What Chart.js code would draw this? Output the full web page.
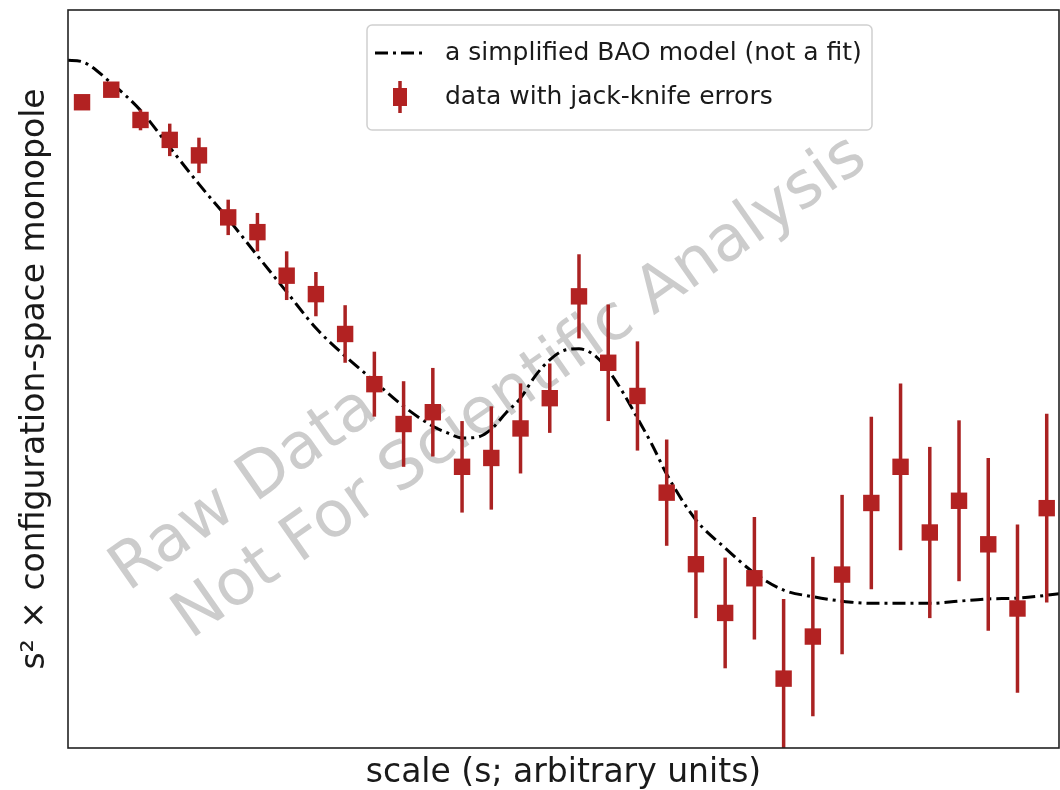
<!DOCTYPE html>
<html>
<head>
<meta charset="utf-8">
<script src="https://cdn.jsdelivr.net/npm/chart.js@4/dist/chart.umd.min.js"></script>
<style>
  html, body { margin: 0; padding: 0; background: #ffffff; }
  #wrap { width: 1060px; height: 790px; }
</style>
</head>
<body>
<div id="wrap"><canvas id="c" width="1060" height="790"></canvas></div>
<script>
// Separation bins (arbitrary units)
const sValues = [30, 35, 40, 45, 50, 55, 60, 65, 70, 75, 80, 85, 90, 95, 100, 105, 110,
                 115, 120, 125, 130, 135, 140, 145, 150, 155, 160, 165, 170, 175, 180, 185, 190, 195];
// Measured s^2 * monopole
const monopole = [87.5, 89.2, 85.1, 82.4, 80.3, 71.9, 69.9, 64.0, 61.5, 56.1, 49.3, 43.9, 45.5, 38.1, 39.3, 43.3, 47.4,
                  61.2, 52.2, 47.7, 34.6, 24.9, 18.3, 23.0, 9.4, 15.1, 23.5, 33.2, 38.1, 29.2, 33.5, 27.6, 18.9, 32.5];
// Jack-knife errors (half-widths)
const jackknifeErr = [0.6, 0.7, 1.4, 2.2, 2.4, 2.4, 2.6, 3.3, 3.0, 3.9, 4.4, 5.8, 6.0, 6.2, 7.0, 6.1, 4.7,
                      5.7, 7.9, 7.4, 7.2, 7.3, 7.5, 8.3, 10.8, 10.8, 10.8, 11.7, 11.3, 11.6, 10.9, 11.7, 11.4, 12.8];
// Simplified BAO model curve
const modelS = [27.6, 30, 35, 40, 45, 50, 55, 60, 65, 70, 75, 80, 85, 90, 92.5, 95, 97.5, 100, 102.5, 105,
                107.5, 110, 112.5, 115, 117.5, 120, 122.5, 125, 127.5, 130, 135, 140, 145, 150, 155, 160,
                165, 170, 175, 180, 185, 190, 195, 197.1];
const modelCurve = [93.2, 93.0, 90.1, 86.4, 81.4, 76.4, 71.7, 66.7, 61.8, 56.9, 53.1, 49.7, 46.3, 43.6, 42.7, 42.0, 42.1, 43.2, 45.4, 47.4,
                    50.4, 52.6, 53.9, 54.1, 53.3, 51.2, 48.2, 44.7, 41.1, 37.1, 30.9, 27.1, 23.7, 21.4, 20.5, 19.9,
                    19.6, 19.6, 19.6, 19.9, 20.2, 20.3, 20.7, 20.9];

const xRange = [27.6, 197.1];
const yRange = [0, 100];

const FONT = "'DejaVu Sans', 'Liberation Sans', sans-serif";
const RED = '#b22222';
const BAR_RED = '#aa2222';

// Error bars drawn just before the data markers
const errorBars = {
  id: 'errorBars',
  beforeDatasetDraw(chart, args) {
    if (args.index !== 0) return;
    const { ctx, chartArea, scales: { x, y } } = chart;
    ctx.save();
    ctx.beginPath();
    ctx.rect(chartArea.left, chartArea.top, chartArea.right - chartArea.left, chartArea.bottom - chartArea.top);
    ctx.clip();
    ctx.strokeStyle = BAR_RED;
    ctx.lineWidth = 3.5;
    sValues.forEach((s, i) => {
      const px = x.getPixelForValue(s);
      ctx.beginPath();
      ctx.moveTo(px, y.getPixelForValue(monopole[i] - jackknifeErr[i]));
      ctx.lineTo(px, y.getPixelForValue(monopole[i] + jackknifeErr[i]));
      ctx.stroke();
    });
    ctx.restore();
  }
};

// Faint diagonal caption behind the data
const watermark = {
  id: 'watermark',
  beforeDatasetsDraw(chart) {
    const { ctx } = chart;
    ctx.save();
    ctx.translate(128, 592);
    ctx.rotate(-35 * Math.PI / 180);
    ctx.fillStyle = 'rgba(128,128,128,0.4)';
    ctx.font = '64px ' + FONT;
    ctx.textBaseline = 'alphabetic';
    ctx.textAlign = 'left';
    ctx.fillText('Raw Data', 0, 0);
    ctx.fillText('Not For Scientific Analysis', 24, 75);
    ctx.restore();
  }
};

// Axes frame (all four spines)
const frame = {
  id: 'frame',
  afterDatasetsDraw(chart) {
    const { ctx, chartArea: a } = chart;
    ctx.save();
    ctx.strokeStyle = '#222222';
    ctx.lineWidth = 1.6;
    ctx.strokeRect(a.left, a.top, a.right - a.left, a.bottom - a.top);
    ctx.restore();
  }
};

// Legend box in the upper right of the axes
const boxLegend = {
  id: 'boxLegend',
  afterDraw(chart) {
    const { ctx } = chart;
    const ds = chart.data.datasets;
    const bx = 367, by = 25, bw = 505, bh = 105, r = 5;
    ctx.save();
    ctx.beginPath();
    ctx.moveTo(bx + r, by);
    ctx.arcTo(bx + bw, by, bx + bw, by + bh, r);
    ctx.arcTo(bx + bw, by + bh, bx, by + bh, r);
    ctx.arcTo(bx, by + bh, bx, by, r);
    ctx.arcTo(bx, by, bx + bw, by, r);
    ctx.closePath();
    ctx.fillStyle = 'rgba(255,255,255,0.8)';
    ctx.fill();
    ctx.strokeStyle = '#d0d0d0';
    ctx.lineWidth = 1.5;
    ctx.stroke();

    // model handle
    const y1 = 53, y2 = 97;
    ctx.strokeStyle = '#000000';
    ctx.lineWidth = 3;
    ctx.setLineDash([13, 5, 3, 5]);
    ctx.beginPath();
    ctx.moveTo(375, y1);
    ctx.lineTo(424, y1);
    ctx.stroke();
    ctx.setLineDash([]);

    // data handle
    ctx.strokeStyle = BAR_RED;
    ctx.lineWidth = 3.5;
    ctx.beginPath();
    ctx.moveTo(400, y2 - 16);
    ctx.lineTo(400, y2 + 16);
    ctx.stroke();
    ctx.fillStyle = RED;
    ctx.fillRect(400 - 7, y2 - 9, 14, 18);

    ctx.fillStyle = '#1a1a1a';
    ctx.font = '25px ' + FONT;
    ctx.textBaseline = 'middle';
    ctx.textAlign = 'left';
    ctx.fillText(ds[1].label, 445, y1);
    ctx.fillText(ds[0].label, 445, y2);
    ctx.restore();
  }
};

new Chart(document.getElementById('c'), {
  type: 'scatter',
  data: {
    datasets: [
      {
        label: 'data with jack-knife errors',
        data: sValues.map((s, i) => ({ x: s, y: monopole[i] })),
        pointStyle: 'rect',
        pointRadius: 11.6,
        pointHoverRadius: 11.6,
        backgroundColor: RED,
        borderColor: RED,
        borderWidth: 0,
        showLine: false
      },
      {
        label: 'a simplified BAO model (not a fit)',
        type: 'line',
        data: modelS.map((s, i) => ({ x: s, y: modelCurve[i] })),
        borderColor: '#000000',
        borderWidth: 3,
        borderDash: [13, 5, 3, 5],
        pointRadius: 0,
        fill: false,
        cubicInterpolationMode: 'monotone'
      }
    ]
  },
  options: {
    responsive: false,
    animation: false,
    devicePixelRatio: 1,
    layout: { autoPadding: false, padding: { top: 10, right: 1, left: 0, bottom: 0 } },
    plugins: {
      legend: { display: false },
      tooltip: { enabled: false }
    },
    scales: {
      x: {
        type: 'linear',
        min: xRange[0],
        max: xRange[1],
        ticks: { display: false },
        grid: { display: false, drawTicks: false },
        border: { display: false },
        title: {
          display: true,
          text: 'scale (s; arbitrary units)',
          color: '#1a1a1a',
          font: { family: FONT, size: 33, lineHeight: 1.0 },
          padding: { top: 0, bottom: 0 }
        },
        afterFit(scale) { scale.height = 42; }
      },
      y: {
        type: 'linear',
        min: yRange[0],
        max: yRange[1],
        ticks: { display: false },
        grid: { display: false, drawTicks: false },
        border: { display: false },
        title: {
          display: true,
          text: 's² × configuration-space monopole',
          color: '#1a1a1a',
          font: { family: FONT, size: 33 },
          padding: { top: 16, bottom: 0 }
        },
        afterFit(scale) { scale.width = 68; }
      }
    }
  },
  plugins: [watermark, errorBars, frame, boxLegend]
});
</script>
</body>
</html>
